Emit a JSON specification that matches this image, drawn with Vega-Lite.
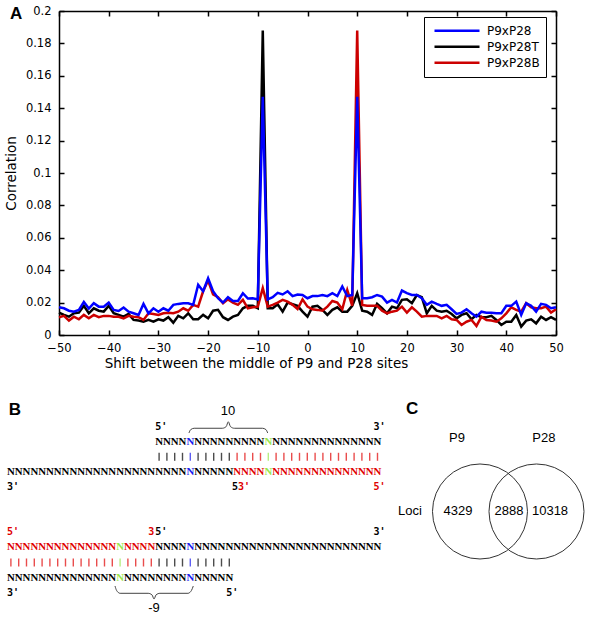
{
  "$schema": "https://vega.github.io/schema/vega-lite/v6.json",
  "width": 497,
  "height": 324,
  "autosize": {"type": "none"},
  "padding": {"left": 59, "top": 11, "right": 44, "bottom": 282},
  "background": "white",
  "config": {
    "view": {"stroke": null},
    "axis": {"grid": false, "domainColor": "black", "domainWidth": 1.5, "tickColor": "black", "tickWidth": 1.5, "tickSize": -5, "labelColor": "black", "labelFont": "DejaVu Sans", "labelFontSize": 11.5, "titleColor": "black", "titleFont": "DejaVu Sans", "titleFontSize": 13.5, "titleFontWeight": "normal", "labelFlush": false, "labelOverlap": false}
  },
  "datasets": {
    "correlation": [
      {"shift": -50, "P9xP28": 0.0171, "P9xP28T": 0.0138, "P9xP28B": 0.0110},
      {"shift": -49, "P9xP28": 0.0165, "P9xP28T": 0.0124, "P9xP28B": 0.0118},
      {"shift": -48, "P9xP28": 0.0150, "P9xP28T": 0.0113, "P9xP28B": 0.0089},
      {"shift": -47, "P9xP28": 0.0144, "P9xP28T": 0.0134, "P9xP28B": 0.0113},
      {"shift": -46, "P9xP28": 0.0155, "P9xP28T": 0.0138, "P9xP28B": 0.0097},
      {"shift": -45, "P9xP28": 0.0204, "P9xP28T": 0.0180, "P9xP28B": 0.0124},
      {"shift": -44, "P9xP28": 0.0163, "P9xP28T": 0.0134, "P9xP28B": 0.0103},
      {"shift": -43, "P9xP28": 0.0196, "P9xP28T": 0.0165, "P9xP28B": 0.0124},
      {"shift": -42, "P9xP28": 0.0175, "P9xP28T": 0.0150, "P9xP28B": 0.0110},
      {"shift": -41, "P9xP28": 0.0175, "P9xP28T": 0.0144, "P9xP28B": 0.0118},
      {"shift": -40, "P9xP28": 0.0200, "P9xP28T": 0.0180, "P9xP28B": 0.0118},
      {"shift": -39, "P9xP28": 0.0155, "P9xP28T": 0.0134, "P9xP28B": 0.0113},
      {"shift": -38, "P9xP28": 0.0148, "P9xP28T": 0.0124, "P9xP28B": 0.0113},
      {"shift": -37, "P9xP28": 0.0170, "P9xP28T": 0.0113, "P9xP28B": 0.0103},
      {"shift": -36, "P9xP28": 0.0144, "P9xP28T": 0.0130, "P9xP28B": 0.0118},
      {"shift": -35, "P9xP28": 0.0134, "P9xP28T": 0.0093, "P9xP28B": 0.0113},
      {"shift": -34, "P9xP28": 0.0124, "P9xP28T": 0.0089, "P9xP28B": 0.0110},
      {"shift": -33, "P9xP28": 0.0192, "P9xP28T": 0.0082, "P9xP28B": 0.0093},
      {"shift": -32, "P9xP28": 0.0134, "P9xP28T": 0.0093, "P9xP28B": 0.0134},
      {"shift": -31, "P9xP28": 0.0165, "P9xP28T": 0.0082, "P9xP28B": 0.0130},
      {"shift": -30, "P9xP28": 0.0144, "P9xP28T": 0.0097, "P9xP28B": 0.0124},
      {"shift": -29, "P9xP28": 0.0165, "P9xP28T": 0.0089, "P9xP28B": 0.0134},
      {"shift": -28, "P9xP28": 0.0150, "P9xP28T": 0.0110, "P9xP28B": 0.0138},
      {"shift": -27, "P9xP28": 0.0186, "P9xP28T": 0.0076, "P9xP28B": 0.0134},
      {"shift": -26, "P9xP28": 0.0192, "P9xP28T": 0.0118, "P9xP28B": 0.0144},
      {"shift": -25, "P9xP28": 0.0196, "P9xP28T": 0.0103, "P9xP28B": 0.0165},
      {"shift": -24, "P9xP28": 0.0196, "P9xP28T": 0.0134, "P9xP28B": 0.0150},
      {"shift": -23, "P9xP28": 0.0186, "P9xP28T": 0.0097, "P9xP28B": 0.0186},
      {"shift": -22, "P9xP28": 0.0310, "P9xP28T": 0.0097, "P9xP28B": 0.0175},
      {"shift": -21, "P9xP28": 0.0270, "P9xP28T": 0.0124, "P9xP28B": 0.0270},
      {"shift": -20, "P9xP28": 0.0350, "P9xP28T": 0.0103, "P9xP28B": 0.0336},
      {"shift": -19, "P9xP28": 0.0270, "P9xP28T": 0.0150, "P9xP28B": 0.0250},
      {"shift": -18, "P9xP28": 0.0227, "P9xP28T": 0.0155, "P9xP28B": 0.0233},
      {"shift": -17, "P9xP28": 0.0200, "P9xP28T": 0.0110, "P9xP28B": 0.0196},
      {"shift": -16, "P9xP28": 0.0233, "P9xP28T": 0.0093, "P9xP28B": 0.0220},
      {"shift": -15, "P9xP28": 0.0210, "P9xP28T": 0.0113, "P9xP28B": 0.0200},
      {"shift": -14, "P9xP28": 0.0210, "P9xP28T": 0.0124, "P9xP28B": 0.0186},
      {"shift": -13, "P9xP28": 0.0258, "P9xP28T": 0.0165, "P9xP28B": 0.0217},
      {"shift": -12, "P9xP28": 0.0225, "P9xP28T": 0.0180, "P9xP28B": 0.0165},
      {"shift": -11, "P9xP28": 0.0227, "P9xP28T": 0.0180, "P9xP28B": 0.0171},
      {"shift": -10, "P9xP28": 0.0220, "P9xP28T": 0.0165, "P9xP28B": 0.0175},
      {"shift": -9, "P9xP28": 0.147, "P9xP28T": 0.188, "P9xP28B": 0.0289},
      {"shift": -8, "P9xP28": 0.0220, "P9xP28T": 0.0165, "P9xP28B": 0.0175},
      {"shift": -7, "P9xP28": 0.0233, "P9xP28T": 0.0165, "P9xP28B": 0.0186},
      {"shift": -6, "P9xP28": 0.0260, "P9xP28T": 0.0190, "P9xP28B": 0.0200},
      {"shift": -5, "P9xP28": 0.0250, "P9xP28T": 0.0144, "P9xP28B": 0.0217},
      {"shift": -4, "P9xP28": 0.0270, "P9xP28T": 0.0200, "P9xP28B": 0.0206},
      {"shift": -3, "P9xP28": 0.0240, "P9xP28T": 0.0190, "P9xP28B": 0.0186},
      {"shift": -2, "P9xP28": 0.0250, "P9xP28T": 0.0180, "P9xP28B": 0.0160},
      {"shift": -1, "P9xP28": 0.0247, "P9xP28T": 0.0144, "P9xP28B": 0.0220},
      {"shift": 0, "P9xP28": 0.0227, "P9xP28T": 0.0113, "P9xP28B": 0.0175},
      {"shift": 1, "P9xP28": 0.0240, "P9xP28T": 0.0175, "P9xP28B": 0.0159},
      {"shift": 2, "P9xP28": 0.0240, "P9xP28T": 0.0180, "P9xP28B": 0.0155},
      {"shift": 3, "P9xP28": 0.0247, "P9xP28T": 0.0155, "P9xP28B": 0.0150},
      {"shift": 4, "P9xP28": 0.0240, "P9xP28T": 0.0124, "P9xP28B": 0.0175},
      {"shift": 5, "P9xP28": 0.0258, "P9xP28T": 0.0155, "P9xP28B": 0.0210},
      {"shift": 6, "P9xP28": 0.0240, "P9xP28T": 0.0171, "P9xP28B": 0.0200},
      {"shift": 7, "P9xP28": 0.0300, "P9xP28T": 0.0144, "P9xP28B": 0.0159},
      {"shift": 8, "P9xP28": 0.0240, "P9xP28T": 0.0144, "P9xP28B": 0.0278},
      {"shift": 9, "P9xP28": 0.0247, "P9xP28T": 0.0180, "P9xP28B": 0.0180},
      {"shift": 10, "P9xP28": 0.147, "P9xP28T": 0.0258, "P9xP28B": 0.188},
      {"shift": 11, "P9xP28": 0.0227, "P9xP28T": 0.0150, "P9xP28B": 0.0186},
      {"shift": 12, "P9xP28": 0.0227, "P9xP28T": 0.0144, "P9xP28B": 0.0180},
      {"shift": 13, "P9xP28": 0.0233, "P9xP28T": 0.0124, "P9xP28B": 0.0180},
      {"shift": 14, "P9xP28": 0.0247, "P9xP28T": 0.0192, "P9xP28B": 0.0180},
      {"shift": 15, "P9xP28": 0.0237, "P9xP28T": 0.0165, "P9xP28B": 0.0150},
      {"shift": 16, "P9xP28": 0.0200, "P9xP28T": 0.0134, "P9xP28B": 0.0134},
      {"shift": 17, "P9xP28": 0.0217, "P9xP28T": 0.0175, "P9xP28B": 0.0144},
      {"shift": 18, "P9xP28": 0.0200, "P9xP28T": 0.0165, "P9xP28B": 0.0150},
      {"shift": 19, "P9xP28": 0.0274, "P9xP28T": 0.0217, "P9xP28B": 0.0175},
      {"shift": 20, "P9xP28": 0.0258, "P9xP28T": 0.0220, "P9xP28B": 0.0138},
      {"shift": 21, "P9xP28": 0.0247, "P9xP28T": 0.0196, "P9xP28B": 0.0171},
      {"shift": 22, "P9xP28": 0.0247, "P9xP28T": 0.0247, "P9xP28B": 0.0144},
      {"shift": 23, "P9xP28": 0.0227, "P9xP28T": 0.0233, "P9xP28B": 0.0113},
      {"shift": 24, "P9xP28": 0.0186, "P9xP28T": 0.0134, "P9xP28B": 0.0118},
      {"shift": 25, "P9xP28": 0.0206, "P9xP28T": 0.0180, "P9xP28B": 0.0118},
      {"shift": 26, "P9xP28": 0.0192, "P9xP28T": 0.0150, "P9xP28B": 0.0118},
      {"shift": 27, "P9xP28": 0.0180, "P9xP28T": 0.0144, "P9xP28B": 0.0103},
      {"shift": 28, "P9xP28": 0.0186, "P9xP28T": 0.0150, "P9xP28B": 0.0118},
      {"shift": 29, "P9xP28": 0.0159, "P9xP28T": 0.0130, "P9xP28B": 0.0097},
      {"shift": 30, "P9xP28": 0.0130, "P9xP28T": 0.0103, "P9xP28B": 0.0093},
      {"shift": 31, "P9xP28": 0.0138, "P9xP28T": 0.0124, "P9xP28B": 0.0062},
      {"shift": 32, "P9xP28": 0.0159, "P9xP28T": 0.0134, "P9xP28B": 0.0082},
      {"shift": 33, "P9xP28": 0.0134, "P9xP28T": 0.0097, "P9xP28B": 0.0093},
      {"shift": 34, "P9xP28": 0.0113, "P9xP28T": 0.0124, "P9xP28B": 0.0056},
      {"shift": 35, "P9xP28": 0.0144, "P9xP28T": 0.0110, "P9xP28B": 0.0113},
      {"shift": 36, "P9xP28": 0.0138, "P9xP28T": 0.0110, "P9xP28B": 0.0093},
      {"shift": 37, "P9xP28": 0.0138, "P9xP28T": 0.0118, "P9xP28B": 0.0089},
      {"shift": 38, "P9xP28": 0.0134, "P9xP28T": 0.0093, "P9xP28B": 0.0082},
      {"shift": 39, "P9xP28": 0.0134, "P9xP28T": 0.0062, "P9xP28B": 0.0103},
      {"shift": 40, "P9xP28": 0.0180, "P9xP28T": 0.0082, "P9xP28B": 0.0134},
      {"shift": 41, "P9xP28": 0.0180, "P9xP28T": 0.0082, "P9xP28B": 0.0171},
      {"shift": 42, "P9xP28": 0.0206, "P9xP28T": 0.0124, "P9xP28B": 0.0155},
      {"shift": 43, "P9xP28": 0.0124, "P9xP28T": 0.0052, "P9xP28B": 0.0144},
      {"shift": 44, "P9xP28": 0.0196, "P9xP28T": 0.0089, "P9xP28B": 0.0196},
      {"shift": 45, "P9xP28": 0.0180, "P9xP28T": 0.0097, "P9xP28B": 0.0171},
      {"shift": 46, "P9xP28": 0.0144, "P9xP28T": 0.0072, "P9xP28B": 0.0165},
      {"shift": 47, "P9xP28": 0.0192, "P9xP28T": 0.0113, "P9xP28B": 0.0165},
      {"shift": 48, "P9xP28": 0.0186, "P9xP28T": 0.0093, "P9xP28B": 0.0175},
      {"shift": 49, "P9xP28": 0.0165, "P9xP28T": 0.0110, "P9xP28B": 0.0138},
      {"shift": 50, "P9xP28": 0.0171, "P9xP28T": 0.0093, "P9xP28B": 0.0159}
    ],
    "strands": [
      {"col": 19, "line": 2, "bases": "NNNN", "role": "base"},
      {"col": 23, "line": 2, "bases": "N", "role": "P9 mid"},
      {"col": 24, "line": 2, "bases": "NNNNNNNNN", "role": "base"},
      {"col": 33, "line": 2, "bases": "N", "role": "P28 mid"},
      {"col": 34, "line": 2, "bases": "NNNNNNNNNNNNNN", "role": "base"},
      {"col": 0, "line": 4, "bases": "NNNNNNNNNNNNNNNNNNNNNNN", "role": "base"},
      {"col": 23, "line": 4, "bases": "N", "role": "P9 mid"},
      {"col": 24, "line": 4, "bases": "NNNNN", "role": "base"},
      {"col": 29, "line": 4, "bases": "NNNN", "role": "P28B"},
      {"col": 33, "line": 4, "bases": "N", "role": "P28 mid"},
      {"col": 34, "line": 4, "bases": "NNNNNNNNNNNNNN", "role": "P28B"},
      {"col": 0, "line": 9, "bases": "NNNNNNNNNNNNNN", "role": "P28B"},
      {"col": 14, "line": 9, "bases": "N", "role": "P28 mid"},
      {"col": 15, "line": 9, "bases": "NNNN", "role": "P28B"},
      {"col": 19, "line": 9, "bases": "NNNN", "role": "base"},
      {"col": 23, "line": 9, "bases": "N", "role": "P9 mid"},
      {"col": 24, "line": 9, "bases": "NNNNNNNNNNNNNNNNNNNNNNNN", "role": "base"},
      {"col": 0, "line": 11, "bases": "NNNNNNNNNNNNNN", "role": "base"},
      {"col": 14, "line": 11, "bases": "N", "role": "P28 mid"},
      {"col": 15, "line": 11, "bases": "NNNNNNNN", "role": "base"},
      {"col": 23, "line": 11, "bases": "N", "role": "P9 mid"},
      {"col": 24, "line": 11, "bases": "NNNNN", "role": "base"}
    ],
    "pairs": [
      {"col": 19, "line": 3, "role": "base"}, {"col": 20, "line": 3, "role": "base"}, {"col": 21, "line": 3, "role": "base"}, {"col": 22, "line": 3, "role": "base"},
      {"col": 23, "line": 3, "role": "P9 mid"},
      {"col": 24, "line": 3, "role": "base"}, {"col": 25, "line": 3, "role": "base"}, {"col": 26, "line": 3, "role": "base"}, {"col": 27, "line": 3, "role": "base"}, {"col": 28, "line": 3, "role": "base"},
      {"col": 29, "line": 3, "role": "P28B"}, {"col": 30, "line": 3, "role": "P28B"}, {"col": 31, "line": 3, "role": "P28B"}, {"col": 32, "line": 3, "role": "P28B"},
      {"col": 33, "line": 3, "role": "P28 mid"},
      {"col": 34, "line": 3, "role": "P28B"}, {"col": 35, "line": 3, "role": "P28B"}, {"col": 36, "line": 3, "role": "P28B"}, {"col": 37, "line": 3, "role": "P28B"}, {"col": 38, "line": 3, "role": "P28B"},
      {"col": 39, "line": 3, "role": "P28B"}, {"col": 40, "line": 3, "role": "P28B"}, {"col": 41, "line": 3, "role": "P28B"}, {"col": 42, "line": 3, "role": "P28B"}, {"col": 43, "line": 3, "role": "P28B"},
      {"col": 44, "line": 3, "role": "P28B"}, {"col": 45, "line": 3, "role": "P28B"}, {"col": 46, "line": 3, "role": "P28B"}, {"col": 47, "line": 3, "role": "P28B"},
      {"col": 0, "line": 10, "role": "P28B"}, {"col": 1, "line": 10, "role": "P28B"}, {"col": 2, "line": 10, "role": "P28B"}, {"col": 3, "line": 10, "role": "P28B"}, {"col": 4, "line": 10, "role": "P28B"},
      {"col": 5, "line": 10, "role": "P28B"}, {"col": 6, "line": 10, "role": "P28B"}, {"col": 7, "line": 10, "role": "P28B"}, {"col": 8, "line": 10, "role": "P28B"}, {"col": 9, "line": 10, "role": "P28B"},
      {"col": 10, "line": 10, "role": "P28B"}, {"col": 11, "line": 10, "role": "P28B"}, {"col": 12, "line": 10, "role": "P28B"}, {"col": 13, "line": 10, "role": "P28B"},
      {"col": 14, "line": 10, "role": "P28 mid"},
      {"col": 15, "line": 10, "role": "P28B"}, {"col": 16, "line": 10, "role": "P28B"}, {"col": 17, "line": 10, "role": "P28B"}, {"col": 18, "line": 10, "role": "P28B"},
      {"col": 19, "line": 10, "role": "base"}, {"col": 20, "line": 10, "role": "base"}, {"col": 21, "line": 10, "role": "base"}, {"col": 22, "line": 10, "role": "base"},
      {"col": 23, "line": 10, "role": "P9 mid"},
      {"col": 24, "line": 10, "role": "base"}, {"col": 25, "line": 10, "role": "base"}, {"col": 26, "line": 10, "role": "base"}, {"col": 27, "line": 10, "role": "base"}, {"col": 28, "line": 10, "role": "base"}
    ],
    "ends": [
      {"col": 19, "line": 1, "end": "5'", "role": "base"},
      {"col": 47, "line": 1, "end": "3'", "role": "base"},
      {"col": 0, "line": 5, "end": "3'", "role": "base"},
      {"col": 28.85, "line": 5, "end": "5", "role": "base"},
      {"col": 29.6, "line": 5, "end": "3'", "role": "P28B"},
      {"col": 47, "line": 5, "end": "5'", "role": "P28B"},
      {"col": 0, "line": 8, "end": "5'", "role": "P28B"},
      {"col": 18.1, "line": 8, "end": "3", "role": "P28B"},
      {"col": 19, "line": 8, "end": "5'", "role": "base"},
      {"col": 47, "line": 8, "end": "3'", "role": "base"},
      {"col": 0, "line": 12, "end": "3'", "role": "base"},
      {"col": 28.1, "line": 12, "end": "5'", "role": "base"}
    ],
    "braces": [
      {"brace": "10", "col": 23.33, "line": 1.42},
      {"brace": "10", "col": 23.55, "line": 1.2},
      {"brace": "10", "col": 24.0, "line": 1.11},
      {"brace": "10", "col": 27.6, "line": 1.11},
      {"brace": "10", "col": 28.1, "line": 1.0},
      {"brace": "10", "col": 28.37, "line": 0.68},
      {"brace": "10", "col": 28.65, "line": 1.0},
      {"brace": "10", "col": 29.15, "line": 1.11},
      {"brace": "10", "col": 32.75, "line": 1.11},
      {"brace": "10", "col": 33.2, "line": 1.2},
      {"brace": "10", "col": 33.42, "line": 1.42},
      {"brace": "-9", "col": 13.85, "line": 11.56},
      {"brace": "-9", "col": 14.05, "line": 11.85},
      {"brace": "-9", "col": 14.5, "line": 12.04},
      {"brace": "-9", "col": 18.1, "line": 12.04},
      {"brace": "-9", "col": 18.6, "line": 12.15},
      {"brace": "-9", "col": 18.85, "line": 12.42},
      {"brace": "-9", "col": 19.1, "line": 12.15},
      {"brace": "-9", "col": 19.6, "line": 12.04},
      {"brace": "-9", "col": 23.2, "line": 12.04},
      {"brace": "-9", "col": 23.65, "line": 11.85},
      {"brace": "-9", "col": 23.88, "line": 11.56}
    ],
    "shifts": [
      {"col": 28.33, "line": 0, "label": "10"},
      {"col": 18.85, "line": 13, "label": "-9"}
    ],
    "venn": [
      {"set": "P9", "cx": 0, "cy": 0},
      {"set": "P28", "cx": 1.202, "cy": 0}
    ],
    "vennLabels": [
      {"label": "P9", "cx": -0.49, "cy": 1.574},
      {"label": "P28", "cx": 1.36, "cy": 1.574},
      {"label": "Loci", "cx": -1.49, "cy": 0},
      {"label": "4329", "cx": -0.468, "cy": 0},
      {"label": "2888", "cx": 0.617, "cy": 0},
      {"label": "10318", "cx": 1.49, "cy": 0}
    ],
    "panels": [
      {"panel": "A", "fx": 0.0267, "fy": 0.0219},
      {"panel": "B", "fx": 0.025, "fy": 0.6637},
      {"panel": "C", "fx": 0.6867, "fy": 0.6629}
    ]
  },
  "resolve": {"scale": {"x": "independent", "y": "independent", "color": "independent"}},
  "layer": [
    {
      "data": {"name": "correlation"},
      "transform": [{"fold": ["P9xP28T", "P9xP28B", "P9xP28"], "as": ["series", "corr"]}],
      "resolve": {"axis": {"x": "independent", "y": "independent"}},
      "layer": [
        {
          "mark": {"type": "line", "strokeWidth": 2.5},
          "encoding": {
            "x": {"field": "shift", "type": "quantitative", "scale": {"domain": [-50, 50], "nice": false, "zero": false},
              "axis": {"orient": "bottom", "values": [-50, -40, -30, -20, -10, 0, 10, 20, 30, 40, 50], "format": "d", "labelPadding": 12, "title": "Shift between the middle of P9 and P28 sites", "titlePadding": 3, "titleX": 197}},
            "y": {"field": "corr", "type": "quantitative", "scale": {"domain": [0, 0.2], "nice": false},
              "axis": {"orient": "left", "values": [0, 0.02, 0.04, 0.06, 0.08, 0.1, 0.12, 0.14, 0.16, 0.18, 0.2], "format": ".2~f", "labelPadding": 13, "title": "Correlation", "titlePadding": 7}},
            "color": {"field": "series", "type": "nominal",
              "scale": {"domain": ["P9xP28", "P9xP28T", "P9xP28B"], "range": ["#0000ff", "#000000", "#cc0000"]},
              "legend": {"title": null, "orient": "none", "legendX": 365, "legendY": 6, "symbolType": "stroke", "symbolSize": 2025, "symbolStrokeWidth": 2.5, "labelFont": "DejaVu Sans", "labelFontSize": 12, "labelColor": "black", "strokeColor": "black", "fillColor": "white", "padding": 6, "clipHeight": 15.5, "labelOffset": 6, "symbolOffset": 3, "rowPadding": 0}}
          }
        },
        {
          "mark": {"type": "point", "opacity": 0},
          "encoding": {
            "x": {"field": "shift", "type": "quantitative", "axis": {"orient": "top", "values": [-50, -40, -30, -20, -10, 0, 10, 20, 30, 40, 50], "labels": false, "title": null}},
            "y": {"field": "corr", "type": "quantitative", "axis": {"orient": "right", "values": [0, 0.02, 0.04, 0.06, 0.08, 0.1, 0.12, 0.14, 0.16, 0.18, 0.2], "labels": false, "title": null}}
          }
        }
      ]
    },
    {
      "layer": [
        {
          "data": {"name": "strands"},
          "mark": {"type": "text", "align": "left", "baseline": "middle", "font": "Liberation Serif", "fontWeight": "bold", "fontSize": 10.8},
          "encoding": {
            "x": {"field": "col", "type": "quantitative", "scale": {"domain": [6.6667, 70.3846], "nice": false, "zero": false}, "axis": null},
            "y": {"field": "line", "type": "quantitative", "scale": {"domain": [-26.5232, -5.0662], "nice": false, "zero": false, "reverse": true}, "axis": null},
            "text": {"field": "bases"},
            "color": {"field": "role", "type": "nominal", "scale": {"domain": ["base", "P9 mid", "P28 mid", "P28B"], "range": ["#000000", "#1a1aee", "#99e64d", "#e00000"]}, "legend": null}
          }
        },
        {
          "data": {"name": "pairs"},
          "mark": {"type": "tick", "orient": "vertical", "size": 8, "thickness": 1.4, "xOffset": 3.9},
          "encoding": {
            "x": {"field": "col", "type": "quantitative", "scale": {"domain": [6.6667, 70.3846], "nice": false, "zero": false}, "axis": null},
            "y": {"field": "line", "type": "quantitative", "scale": {"domain": [-26.5232, -5.0662], "nice": false, "zero": false, "reverse": true}, "axis": null},
            "color": {"field": "role", "type": "nominal", "legend": null}
          }
        },
        {
          "data": {"name": "ends"},
          "mark": {"type": "text", "align": "left", "baseline": "middle", "font": "DejaVu Sans Mono", "fontWeight": "bold", "fontSize": 10},
          "encoding": {
            "x": {"field": "col", "type": "quantitative", "scale": {"domain": [6.6667, 70.3846], "nice": false, "zero": false}, "axis": null},
            "y": {"field": "line", "type": "quantitative", "scale": {"domain": [-26.5232, -5.0662], "nice": false, "zero": false, "reverse": true}, "axis": null},
            "text": {"field": "end"},
            "color": {"field": "role", "type": "nominal", "legend": null}
          }
        },
        {
          "data": {"name": "braces"},
          "mark": {"type": "line", "interpolate": "monotone", "color": "#444444", "strokeWidth": 1},
          "encoding": {
            "x": {"field": "col", "type": "quantitative", "scale": {"domain": [6.6667, 70.3846], "nice": false, "zero": false}, "axis": null},
            "y": {"field": "line", "type": "quantitative", "scale": {"domain": [-26.5232, -5.0662], "nice": false, "zero": false, "reverse": true}, "axis": null},
            "detail": {"field": "brace", "type": "nominal"}
          }
        },
        {
          "data": {"name": "shifts"},
          "mark": {"type": "text", "align": "center", "baseline": "middle", "font": "Liberation Sans", "fontSize": 13, "color": "black"},
          "encoding": {
            "x": {"field": "col", "type": "quantitative", "scale": {"domain": [6.6667, 70.3846], "nice": false, "zero": false}, "axis": null},
            "y": {"field": "line", "type": "quantitative", "scale": {"domain": [-26.5232, -5.0662], "nice": false, "zero": false, "reverse": true}, "axis": null},
            "text": {"field": "label"}
          }
        }
      ]
    },
    {
      "layer": [
        {
          "data": {"name": "venn"},
          "mark": {"type": "point", "shape": "circle", "filled": false, "size": 9025, "color": "#333333", "strokeWidth": 1, "opacity": 1},
          "encoding": {
            "x": {"field": "cx", "type": "quantitative", "scale": {"domain": [-8.9574, 1.6171], "nice": false, "zero": false}, "axis": null},
            "y": {"field": "cy", "type": "quantitative", "scale": {"domain": [3.7553, 10.6489], "nice": false, "zero": false}, "axis": null}
          }
        },
        {
          "data": {"name": "vennLabels"},
          "mark": {"type": "text", "align": "center", "baseline": "middle", "font": "Liberation Sans", "fontSize": 13, "color": "black"},
          "encoding": {
            "x": {"field": "cx", "type": "quantitative", "scale": {"domain": [-8.9574, 1.6171], "nice": false, "zero": false}, "axis": null},
            "y": {"field": "cy", "type": "quantitative", "scale": {"domain": [3.7553, 10.6489], "nice": false, "zero": false}, "axis": null},
            "text": {"field": "label"}
          }
        }
      ]
    },
    {
      "data": {"name": "panels"},
      "mark": {"type": "text", "align": "center", "baseline": "middle", "font": "Liberation Sans", "fontWeight": "bold", "fontSize": 17, "color": "black"},
      "encoding": {
        "x": {"field": "fx", "type": "quantitative", "scale": {"domain": [0.098333, 0.926667], "nice": false, "zero": false}, "axis": null},
        "y": {"field": "fy", "type": "quantitative", "scale": {"domain": [0.017828, 0.54295], "nice": false, "zero": false, "reverse": true}, "axis": null},
        "text": {"field": "panel"}
      }
    }
  ]
}
